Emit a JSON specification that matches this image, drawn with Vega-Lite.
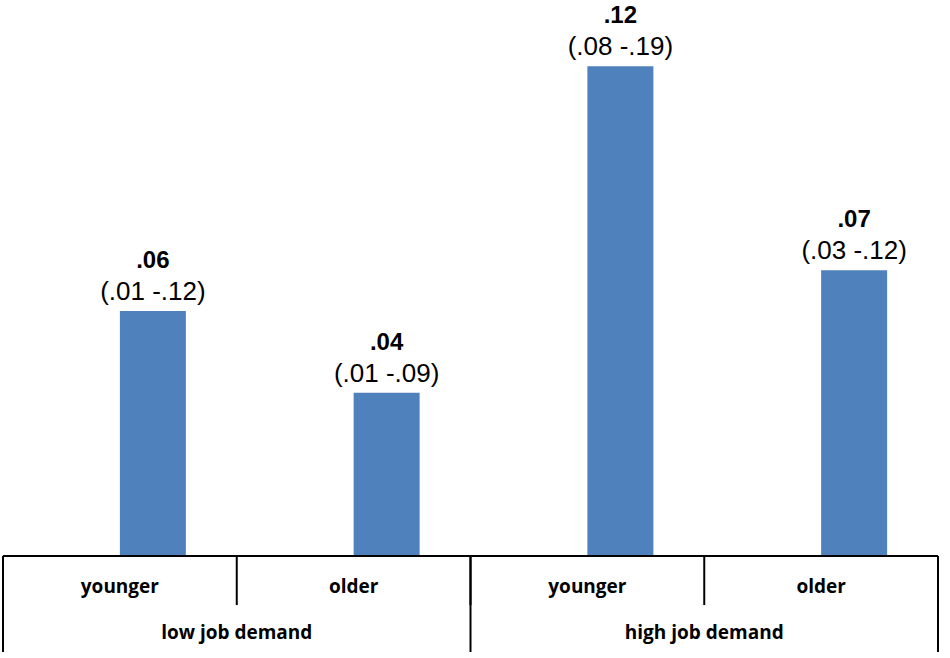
{
  "$schema": "https://vega.github.io/schema/vega-lite/v6.json",
  "width": 935,
  "height": 652,
  "autosize": "none",
  "padding": {"left": 3, "top": 0, "right": 12, "bottom": 6},
  "background": "white",
  "data": {
    "values": [
      {"group": "low job demand", "age": "younger", "key": "low-younger", "value": 0.06, "label": ".06", "ci": "(.01 -.12)"},
      {"group": "low job demand", "age": "older", "key": "low-older", "value": 0.04, "label": ".04", "ci": "(.01 -.09)"},
      {"group": "high job demand", "age": "younger", "key": "high-younger", "value": 0.12, "label": ".12", "ci": "(.08 -.19)"},
      {"group": "high job demand", "age": "older", "key": "high-older", "value": 0.07, "label": ".07", "ci": "(.03 -.12)"}
    ]
  },
  "layer": [
    {
      "mark": {"type": "bar", "width": 66, "xOffset": 33, "color": "#4F81BD"},
      "encoding": {
        "x": {"field": "key", "type": "nominal", "sort": null, "axis": null, "scale": {"paddingInner": 0, "paddingOuter": 0}},
        "y": {"field": "value", "type": "quantitative", "axis": null, "scale": {"domain": [-0.0235, 0.1362], "nice": false, "zero": false}},
        "y2": {"datum": 0}
      }
    },
    {
      "mark": {"type": "text", "dx": 33, "dy": -43, "baseline": "alphabetic", "font": "Liberation Sans", "fontSize": 24, "fontWeight": "bold", "color": "black"},
      "encoding": {
        "x": {"field": "key", "type": "nominal", "sort": null},
        "y": {"field": "value", "type": "quantitative"},
        "text": {"field": "label"}
      }
    },
    {
      "mark": {"type": "text", "dx": 33, "dy": -11, "baseline": "alphabetic", "font": "Liberation Sans", "fontSize": 26, "color": "black"},
      "encoding": {
        "x": {"field": "key", "type": "nominal", "sort": null},
        "y": {"field": "value", "type": "quantitative"},
        "text": {"field": "ci"}
      }
    },
    {
      "mark": {"type": "rule", "color": "black", "strokeWidth": 2},
      "encoding": {"y": {"datum": 0}}
    },
    {
      "mark": {"type": "rule", "color": "black", "strokeWidth": 2},
      "encoding": {
        "x": {"field": "key", "type": "nominal", "sort": null, "bandPosition": 0},
        "y": {"datum": 0},
        "y2": {"datum": -0.012}
      }
    },
    {
      "transform": [{"filter": "datum.age == 'younger'"}],
      "mark": {"type": "rule", "color": "black", "strokeWidth": 2},
      "encoding": {
        "x": {"field": "key", "type": "nominal", "sort": null, "bandPosition": 0},
        "y": {"datum": 0},
        "y2": {"datum": -0.0235}
      }
    },
    {
      "transform": [{"filter": "datum.key == 'high-older'"}],
      "mark": {"type": "rule", "color": "black", "strokeWidth": 2},
      "encoding": {
        "x": {"field": "key", "type": "nominal", "sort": null, "bandPosition": 1},
        "y": {"datum": 0},
        "y2": {"datum": -0.0235}
      }
    },
    {
      "mark": {"type": "text", "baseline": "middle", "font": "Open Sans", "fontSize": 19, "fontWeight": "bold", "color": "black"},
      "encoding": {
        "x": {"field": "key", "type": "nominal", "sort": null},
        "y": {"datum": -0.0077},
        "text": {"field": "age"}
      }
    },
    {
      "transform": [{"filter": "datum.age == 'younger'"}],
      "mark": {"type": "text", "baseline": "middle", "font": "Open Sans", "fontSize": 19, "fontWeight": "bold", "color": "black"},
      "encoding": {
        "x": {"field": "key", "type": "nominal", "sort": null, "bandPosition": 1},
        "y": {"datum": -0.0188},
        "text": {"field": "group"}
      }
    }
  ],
  "config": {"view": {"stroke": null}}
}
